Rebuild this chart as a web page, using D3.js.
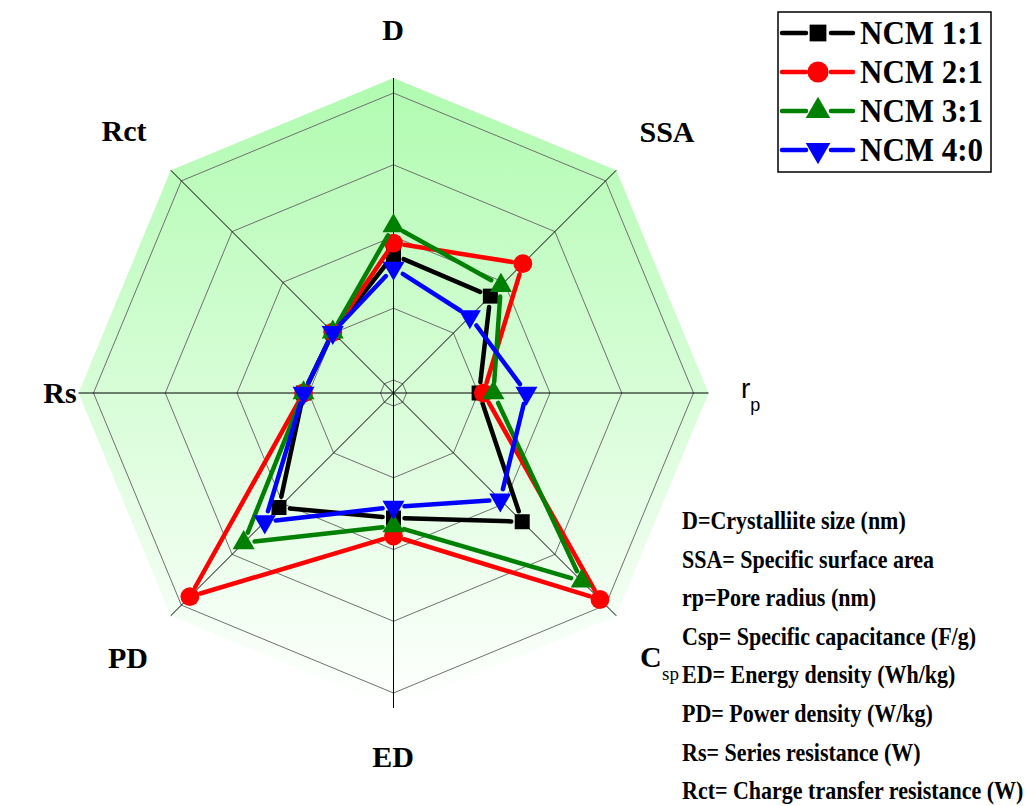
<!DOCTYPE html>
<html>
<head>
<meta charset="utf-8">
<script src="https://cdn.jsdelivr.net/npm/d3@7"></script>
<style>
  body { margin: 0; background: #fff; }
  svg { display: block; }
</style>
</head>
<body>
<svg id="svg" width="1033" height="806"></svg>
<script>
//レーダーチャートのデータ
const axes = ["D", "SSA", "rp", "Csp", "ED", "PD", "Rs", "Rct"];
const seriesNames = ["NCM 1:1", "NCM 2:1", "NCM 3:1", "NCM 4:0"];
const ncm11 = [43.6, 43.2, 25.3, 58.9, 39.0, 51.9, 26.8, 25.4];
const ncm21 = [47.7, 59.2, 26.8, 97.2, 45.3, 95.8, 26.8, 25.4];
const ncm31 = [53.7, 48.4, 30.3, 88.2, 41.8, 69.3, 26.8, 25.4];
const ncm40 = [39.0, 33.1, 41.8, 48.1, 35.2, 58.9, 26.8, 25.4];
const gridLevels = [0, 25, 50, 75, 100];
const notes = [
  "D=Crystalliite size (nm)",
  "SSA= Specific surface area",
  "rp=Pore radius (nm)",
  "Csp= Specific capacitance (F/g)",
  "ED= Energy density (Wh/kg)",
  "PD= Power density (W/kg)",
  "Rs= Series resistance (W)",
  "Rct= Charge transfer resistance (W)"
];

const colors = ["#000000", "#ff0000", "#008000", "#0000ff"];
const symbols = [d3.symbolSquare, d3.symbolCircle, d3.symbolTriangle, d3.symbolTriangle];
const symbolSizes = [225, 280, 210, 210];
const symbolRotate = [0, 0, 0, 180];
const allSeries = [ncm11, ncm21, ncm31, ncm40];

const svg = d3.select("#svg");
const cx = 393.5, cy = 393;
const serif = "'Liberation Serif', 'Times New Roman', serif";

//半径のスケール
const r = d3.scaleLinear().domain([0, 100]).range([13, 300]);
const rOuter = 315;
const angle = d3.scalePoint().domain(axes).range([0, Math.PI * 2 * 7 / 8]);

//極座標から画面座標へ
function pos(name, radius) {
  const a = angle(name);
  return [cx + radius * Math.sin(a), cy - radius * Math.cos(a)];
}

//背景のグラデーション
const defs = svg.append("defs");
const grad = defs.append("linearGradient")
  .attr("id", "bgGrad")
  .attr("gradientUnits", "userSpaceOnUse")
  .attr("x1", 0).attr("y1", cy - rOuter)
  .attr("x2", 0).attr("y2", cy + rOuter);
grad.append("stop").attr("offset", "0%").attr("stop-color", "#b0fbb0");
grad.append("stop").attr("offset", "100%").attr("stop-color", "#ffffff");

svg.append("polygon")
  .attr("points", axes.map((a) => pos(a, rOuter).join(",")).join(" "))
  .attr("fill", "url(#bgGrad)");

//グリッド（八角形）
svg.append("g")
  .selectAll("polygon")
  .data(gridLevels)
  .join("polygon")
  .attr("points", (v) => axes.map((a) => pos(a, r(v)).join(",")).join(" "))
  .attr("fill", "none")
  .attr("stroke", "#707070")
  .attr("stroke-width", 1);

//放射状の軸線
svg.append("g")
  .selectAll("line")
  .data(axes)
  .join("line")
  .attr("x1", cx).attr("y1", cy)
  .attr("x2", (a) => pos(a, rOuter)[0])
  .attr("y2", (a) => pos(a, rOuter)[1])
  .attr("stroke", "#000")
  .attr("stroke-width", 1);

//系列の描画（マーカーの周りは線を空ける）
const gap = 11;
allSeries.forEach((vals, si) => {
  const g = svg.append("g");
  const pts = axes.map((a, i) => pos(a, r(vals[i])));
  const segs = pts.map((p, i) => [p, pts[(i + 1) % pts.length]]);
  g.selectAll("line")
    .data(segs)
    .join("line")
    .each(function ([p, q]) {
      const dx = q[0] - p[0], dy = q[1] - p[1];
      const len = Math.hypot(dx, dy);
      const ux = dx / len, uy = dy / len;
      d3.select(this)
        .attr("x1", p[0] + ux * gap).attr("y1", p[1] + uy * gap)
        .attr("x2", q[0] - ux * gap).attr("y2", q[1] - uy * gap);
    })
    .attr("stroke", colors[si])
    .attr("stroke-width", 4.5)
    .attr("stroke-linecap", "round");
  g.selectAll("path")
    .data(pts)
    .join("path")
    .attr("d", d3.symbol().type(symbols[si]).size(symbolSizes[si]))
    .attr("transform", (p) => `translate(${p[0]},${p[1]}) rotate(${symbolRotate[si]})`)
    .attr("fill", colors[si]);
});

//軸ラベル
const labelPos = {
  D: [393, 40], SSA: [667, 142], Rct: [124, 141], Rs: [60, 403],
  ED: [393, 767], PD: [128, 668]
};
Object.entries(labelPos).forEach(([k, [x, y]]) => {
  svg.append("text")
    .attr("x", x).attr("y", y)
    .attr("text-anchor", "middle")
    .attr("font-family", serif)
    .attr("font-weight", "bold")
    .attr("font-size", 30)
    .text(k);
});

// r_p
const rp = svg.append("text")
  .attr("x", 741).attr("y", 398)
  .attr("font-family", "'Liberation Sans', Arial, sans-serif")
  .attr("font-size", 28);
rp.append("tspan").text("r");
rp.append("tspan").attr("dy", 13).attr("font-size", 18).text("p");

// C_sp
svg.append("text")
  .attr("x", 640).attr("y", 667)
  .attr("font-family", serif)
  .attr("font-weight", "bold")
  .attr("font-size", 30)
  .text("C");
svg.append("text")
  .attr("x", 662).attr("y", 680)
  .attr("font-family", "'Liberation Serif', serif")
  .attr("font-weight", "normal")
  .attr("font-size", 19)
  .text("sp");

//凡例
const legend = svg.append("g");
legend.append("rect")
  .attr("x", 778).attr("y", 12)
  .attr("width", 213).attr("height", 160)
  .attr("fill", "#fff")
  .attr("stroke", "#000")
  .attr("stroke-width", 1.5);
seriesNames.forEach((name, i) => {
  const y = 33 + i * 39;
  const row = legend.append("g");
  row.append("line")
    .attr("x1", 782).attr("x2", 806).attr("y1", y).attr("y2", y)
    .attr("stroke", colors[i]).attr("stroke-width", 4.5).attr("stroke-linecap", "round");
  row.append("line")
    .attr("x1", 831).attr("x2", 853).attr("y1", y).attr("y2", y)
    .attr("stroke", colors[i]).attr("stroke-width", 4.5).attr("stroke-linecap", "round");
  row.append("path")
    .attr("d", d3.symbol().type(symbols[i]).size(symbolSizes[i] * 1.25))
    .attr("transform", `translate(818,${y}) rotate(${symbolRotate[i]})`)
    .attr("fill", colors[i]);
  row.append("text")
    .attr("transform", `translate(860,${y + 11}) scale(1,1.08)`)
    .attr("font-family", serif)
    .attr("font-weight", "bold")
    .attr("font-size", 31)
    .text(name);
});

//説明文（縦に少し伸ばす）
svg.append("g")
  .selectAll("text")
  .data(notes)
  .join("text")
  .attr("transform", (d, i) => `translate(682,${529 + i * 38.6}) scale(1,1.1)`)
  .attr("font-family", serif)
  .attr("font-weight", "bold")
  .attr("font-size", 22)
  .text((d) => d);
</script>
</body>
</html>
